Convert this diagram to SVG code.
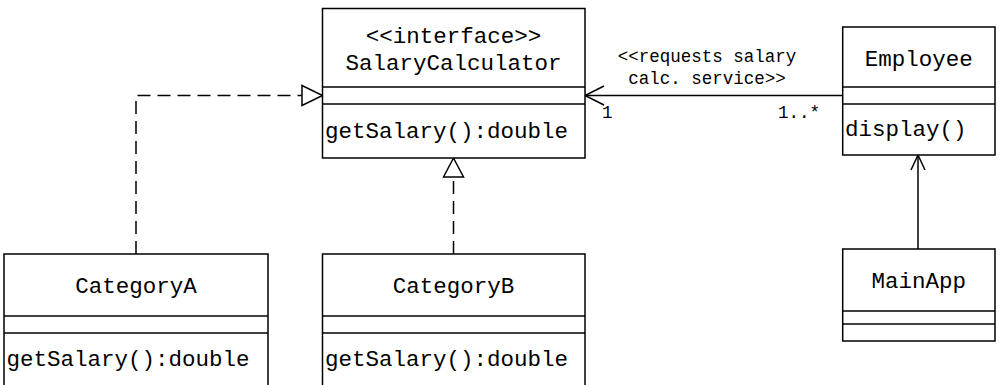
<svg xmlns="http://www.w3.org/2000/svg" width="999" height="385" viewBox="0 0 999 385">
<style>
.box{fill:#fff;stroke:#000;stroke-width:1.5}
.sep{stroke:#000;stroke-width:1.5}
.t{font-family:"Liberation Mono","Courier New",monospace;font-size:22.5px;fill:#000}
.c{text-anchor:middle}
.s{font-family:"Liberation Mono","Courier New",monospace;font-size:17.5px;fill:#000}
.ln{fill:none;stroke:#000;stroke-width:1.5}
.dash{stroke-dasharray:13,7}
</style>
<rect width="999" height="385" fill="#fff"/>
<g id="connectors">
<path class="ln dash" d="M136,254 V95.5 H302"/>
<path d="M302,85.5 L322.5,95.5 L302,105.5 Z" fill="#fff" stroke="#000" stroke-width="1.5"/>
<path class="ln dash" d="M453.5,254 V177"/>
<path d="M443.5,177 L453.5,158 L463.5,177 Z" fill="#fff" stroke="#000" stroke-width="1.5"/>
<path class="ln" d="M842.7,95.5 H585"/>
<path class="ln" d="M604,86 L585,95.5 L604,105"/>
<path class="ln" d="M918,249 V155"/>
<path class="ln" d="M911,170 L918,155 L925,170"/>
<text class="s c" x="707" y="62">&lt;&lt;requests salary</text>
<text class="s c" x="707" y="84">calc. service&gt;&gt;</text>
<text class="s" x="602" y="118">1</text>
<text class="s" x="778" y="118">1..*</text>
</g>
<g id="SalaryCalculator">
<rect class="box" x="322.5" y="8.5" width="262.5" height="149.5"/>
<line class="sep" x1="322.5" y1="87" x2="585" y2="87"/>
<line class="sep" x1="322.5" y1="104" x2="585" y2="104"/>
<text class="t c" x="453.5" y="43">&lt;&lt;interface&gt;&gt;</text>
<text class="t c" x="453.5" y="70">SalaryCalculator</text>
<text class="t" x="325" y="138">getSalary():double</text>
</g>
<g id="Employee">
<rect class="box" x="842.7" y="27" width="152.3" height="128"/>
<line class="sep" x1="842.7" y1="87" x2="995" y2="87"/>
<line class="sep" x1="842.7" y1="104" x2="995" y2="104"/>
<text class="t c" x="918.8" y="65.5">Employee</text>
<text class="t" x="845" y="136">display()</text>
</g>
<g id="CategoryA">
<rect class="box" x="4" y="254" width="264" height="140"/>
<line class="sep" x1="4" y1="316" x2="268" y2="316"/>
<line class="sep" x1="4" y1="333" x2="268" y2="333"/>
<text class="t c" x="136" y="292.5">CategoryA</text>
<text class="t" x="6.5" y="365.5">getSalary():double</text>
</g>
<g id="CategoryB">
<rect class="box" x="322.5" y="254" width="262.5" height="140"/>
<line class="sep" x1="322.5" y1="316" x2="585" y2="316"/>
<line class="sep" x1="322.5" y1="333" x2="585" y2="333"/>
<text class="t c" x="453.5" y="292.5">CategoryB</text>
<text class="t" x="325" y="365.5">getSalary():double</text>
</g>
<g id="MainApp">
<rect class="box" x="842.7" y="249" width="152.3" height="92"/>
<line class="sep" x1="842.7" y1="311" x2="995" y2="311"/>
<line class="sep" x1="842.7" y1="324" x2="995" y2="324"/>
<text class="t c" x="918.8" y="287.5">MainApp</text>
</g>
</svg>
